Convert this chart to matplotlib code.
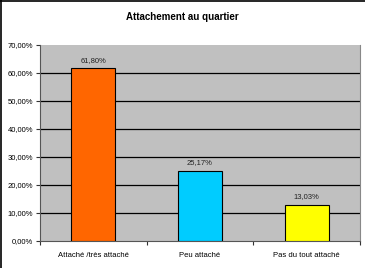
import matplotlib.pyplot as plt
from matplotlib.ticker import FuncFormatter

plt.rcParams["font.family"] = ["Liberation Sans", "DejaVu Sans"]

categories = ["Attaché /très attaché", "Peu attaché", "Pas du tout attaché"]
values = [61.80, 25.17, 13.03]
colors = ["#ff6600", "#00ccff", "#ffff00"]

fig = plt.figure(figsize=(3.65, 2.68), dpi=100)
ax = fig.add_axes([40 / 365, 1 - 241 / 268, 320 / 365, 196 / 268])
ax.set_facecolor("#c0c0c0")

x = range(len(categories))
bars = ax.bar(x, values, width=0.41, color=colors, edgecolor="black", linewidth=0.8, zorder=3)

for b, v in zip(bars, values):
    ax.text(b.get_x() + b.get_width() / 2, v + 1.5, f"{v:.2f}%".replace(".", ","),
            ha="center", va="bottom", fontsize=5.5, color="#222222")

ax.set_xlim(-0.5, 2.5)
ax.set_ylim(0, 70)
yticks = list(range(0, 71, 10))
ax.set_yticks(yticks)
ax.yaxis.set_major_formatter(FuncFormatter(lambda v, p: f"{v:.2f}%".replace(".", ",")))
ax.set_xticks(list(x))
ax.set_xticklabels(categories)
ax.set_xticks([-0.5, 0.5, 1.5, 2.5], minor=True)
ax.tick_params(axis="x", which="major", length=0, labelsize=5.5, pad=8)
ax.tick_params(axis="x", which="minor", length=3, width=0.8, color="#333333")
ax.tick_params(axis="y", length=3, width=0.8, labelsize=5.5, pad=2, color="#333333")

# lignes de grille sauf en haut et en bas
for t in yticks[1:-1]:
    ax.axhline(t, color="black", linewidth=0.9, zorder=1)

ax.spines["top"].set_visible(False)
ax.spines["right"].set_color("#888888")
ax.spines["left"].set_color("#555555")
ax.spines["bottom"].set_color("#555555")

fig.text(0.5, 1 - 17 / 268, "Attachement au quartier", ha="center", va="center",
         fontsize=7, fontweight="bold")

# cadre noir autour du graphique
fig.add_artist(plt.Line2D([0.002, 0.002], [0, 1], color="black", linewidth=1.2, transform=fig.transFigure))
fig.add_artist(plt.Line2D([0, 1], [0.998, 0.998], color="black", linewidth=1.2, transform=fig.transFigure))

plt.savefig("out.png", dpi=100)
